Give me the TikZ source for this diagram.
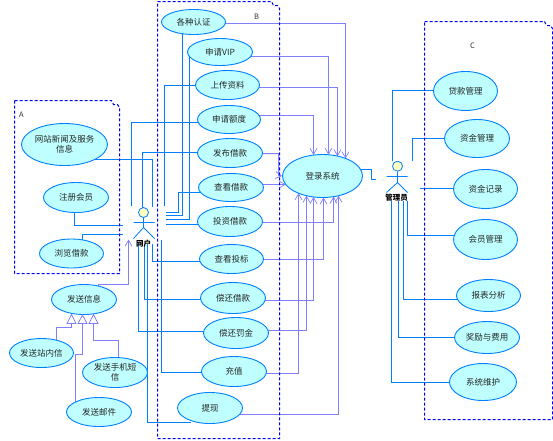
\documentclass[tikz,border=0pt]{standalone}
\usepackage{fontspec}
\setmainfont{Noto Sans CJK SC}
\usetikzlibrary{arrows.meta,shapes.geometric,backgrounds}
\definecolor{uline}{HTML}{0080FF}
\definecolor{ufill}{HTML}{BFFFFF}
\definecolor{upurple}{HTML}{8080FF}
\definecolor{upkg}{HTML}{0000F0}
\definecolor{uhead}{HTML}{FFFFC0}
\tikzset{
  usecase/.style={ellipse,draw=uline,fill=ufill,line width=0.9pt,inner sep=0pt,align=center,font=\fontsize{8.5}{10.5}\selectfont,text=black!85},
  assoc/.style={draw=uline,line width=1pt},
  dep/.style={draw=upurple,line width=1pt,-{Straight Barb[length=6pt,width=7pt,line width=0.7pt]}},
  gen/.style={draw=upurple,line width=1pt},
  gentip/.style={draw=upurple,fill=white,line width=0.8pt},
  pkg/.style={draw=upkg,line width=1pt,dash pattern=on 3pt off 2pt},
  pkglabel/.style={font=\fontsize{7.5}{9}\selectfont,text=black!80},
  actorlabel/.style={font=\fontsize{7.5}{9}\selectfont\bfseries,text=black},
  ahead/.style={circle,draw=uline,fill=uhead,line width=0.8pt,minimum size=10pt,inner sep=0pt},
}
\newcommand{\uc}[6]{\node[usecase,minimum width=#3pt,minimum height=#4pt] (#5) at (#1,#2) {#6};}
\newcommand{\pkgbox}[4]{% x1 y1 x2 y2
  \draw[pkg] (#1,#2) -- ({#3-8},#2) -- ({#3-6},{#2+4}) -- ({#3-2},{#2+4}) -- (#3,{#2+7}) -- (#3,#4) -- (#1,#4) -- cycle;}
\begin{document}
\begin{tikzpicture}[x=1pt,y=-1pt]
\useasboundingbox (-0.5,-0.5) rectangle (552.5,439.5);
% packages
\pkgbox{14}{100}{119}{273}
\pkgbox{157}{1}{279}{438}
\pkgbox{424}{21}{552}{419}
\node[pkglabel] (la) at (21,114) {A};
\node[pkglabel] (lb) at (256,16) {B};
\node[pkglabel] (lc) at (472,45) {C};
% use cases A
\uc{64}{144}{86}{42}{news}{网站新闻及服务\\信息}
\uc{75.5}{197}{65}{30}{reg}{注册会员}
\uc{71}{253}{64}{29}{browse}{浏览借款}
% send
\uc{83.5}{299}{65}{30}{send}{发送信息}
\uc{41}{352.5}{64}{29}{sinner}{发送站内信}
\uc{114.5}{372}{65}{30}{ssms}{发送手机短\\信}
\uc{98.5}{411.5}{65}{29}{smail}{发送邮件}
% use cases B
\uc{193}{21.5}{64}{25}{auth}{各种认证}
\uc{219.5}{51.5}{65}{27}{vip}{申请VIP}
\uc{227}{84.5}{64}{29}{upl}{上传资料}
\uc{228.5}{119}{63}{28}{quota}{申请额度}
\uc{229.5}{152.5}{65}{29}{pub}{发布借款}
\uc{230.5}{187}{65}{28}{view}{查看借款}
\uc{229.5}{221}{65}{30}{inv}{投资借款}
\uc{231}{258.5}{64}{29}{bid}{查看投标}
\uc{232.5}{297.5}{65}{31}{repay}{偿还借款}
\uc{235.5}{332.5}{65}{31}{fine}{偿还罚金}
\uc{233.5}{371}{65}{30}{charge}{充值}
\uc{209.5}{407.5}{65}{31}{wd}{提现}
\uc{322}{175.5}{80}{43}{login}{登录系统}
% use cases C
\uc{465}{90.5}{64}{39}{loan}{贷款管理}
\uc{476.5}{138}{65}{38}{fund}{资金管理}
\uc{485}{188.5}{64}{39}{frec}{资金记录}
\uc{485}{239}{64}{40}{memb}{会员管理}
\uc{488}{295}{64}{32}{rep}{报表分析}
\uc{486.5}{337}{65}{32}{rew}{奖励与费用}
\uc{482.5}{381.5}{67}{37}{sysm}{系统维护}
% actor: user
\node[ahead] (uh) at (143,212) {};
\coordinate (ub) at (143,227);
\coordinate (ula) at (133,222);
\coordinate (ura) at (154,222);
\coordinate (ull) at (133,238);
\coordinate (url) at (154,238);
\draw[assoc,line width=0.8pt] (uh.south) -- (ub) (ula) -- (ura) (ull) -- (ub) -- (url);
% actor: admin
\node[ahead] (ah) at (397,165.7) {};
\coordinate (ab) at (397,182);
\coordinate (ala) at (386,176);
\coordinate (ara) at (407,176);
\coordinate (all) at (386,192);
\coordinate (arl) at (407,192);
\draw[assoc,line width=0.8pt] (ah.south) -- (ab) (ala) -- (ara) (all) -- (ab) -- (arl);
% free ends
\foreach \n/\x/\y in {e1/152/206,e2/122/225,e3/122/234,e4/131/205,e5/142/207,e6/164/205,
  e7/165/212,e8/165/215,e9/165/219,e10/165/224,e11/152/243,e12/144/243,e13/138/243,e14/161/239,e15/147/243,
  e16/128/239,b7/178/212,sb/128/284,
  f1/392/160,f2/412/160,f3/419/188,f4/407/200,f5/403/200,f6/398/200,f7/391/200,
  m1/371/169,m2/371/179,m3/375/179,
  t1/345/157.9,t2/328/154.2,t3/337/155.7,t4/313/154.5,t5/278/175,t6/285.3/184,
  t7/333/196.2,t8/323/197,t9/313/196.5,t10/306/195.2,t11/298/192.7,t12/338/195.2,
  g1/71/323,g2/82/323,g3/93/323,g1b/71/327,g2b/82/354,g3b/93/340,
  a1/71/314,a2/82/314.5,a3/93/314}
  {\coordinate (\n) at (\x,\y);}
\begin{pgfonlayer}{background}
% associations
\draw[assoc] ([yshift=-15pt]news.center) -| (e1);
\draw[assoc] ([xshift=-1.5pt]reg.center) |- (e2);
\draw[assoc] ([xshift=11pt]browse.center) |- (e3);
\draw[assoc] ([xshift=-11pt]auth.center) |- (e8);
\draw[assoc] ([xshift=-30.5pt]vip.center) |- (e9);
\draw[assoc] ([yshift=-0.5pt]upl.center) -| (e6);
\draw[assoc] ([yshift=-3pt]quota.center) -| (e4);
\draw[assoc] ([yshift=0.5pt]pub.center) -| (e5);
\draw[assoc] ([yshift=-5pt]view.center) -| (b7) -- (e7);
\draw[assoc] ([yshift=-3pt]inv.center) -- (e10);
\draw[assoc] ([yshift=-2.5pt]bid.center) -| (e11);
\draw[assoc] ([yshift=-1.5pt]repay.center) -| (e12);
\draw[assoc] ([yshift=1.5pt]fine.center) -| (e13);
\draw[assoc] ([yshift=-1pt]charge.center) -| (e14);
\draw[assoc] ([xshift=-19.5pt,yshift=-14.5pt]wd.center) -| (e15);
\draw[assoc] ([yshift=0.5pt]loan.center) -| (f1);
\draw[assoc] (fund.center) -| (f2);
\draw[assoc] ([yshift=0.5pt]frec.center) -- (f3);
\draw[assoc] ([yshift=4pt]memb.center) -| (f4);
\draw[assoc] ([yshift=-4pt]rep.center) -| (f5);
\draw[assoc] (rew.center) -| (f6);
\draw[assoc] ([yshift=-0.5pt]sysm.center) -| (f7);
\draw[assoc] ([yshift=6.5pt]login.center) -- (m1) -- (m2) -- (m3);
% dependencies
\draw[dep] ([yshift=-1.5pt]auth.center) -| (t1);
\draw[dep] ([yshift=-4.5pt]vip.center) -| (t2);
\draw[dep] ([yshift=-2.5pt]upl.center) -| (t3);
\draw[dep] ([yshift=4pt]quota.center) -| (t4);
\draw[dep] ([yshift=-0.5pt]pub.center) -| (t5) -- (login.west);
\draw[dep] ([yshift=3pt]view.center) -- (t6);
\draw[dep] ([yshift=-1pt]inv.center) -| (t7);
\draw[dep] ([yshift=-0.5pt]bid.center) -| (t8);
\draw[dep] ([yshift=-2.5pt]repay.center) -| (t9);
\draw[dep] ([yshift=2.5pt]fine.center) -| (t10);
\draw[dep] ([yshift=-2pt]charge.center) -| (t11);
\draw[dep] ([yshift=-6.5pt]wd.center) -| (t12);
\draw[dep] ([xshift=14.5pt]send.center) |- (sb) -- (e16);
% generalisations
\draw[gen] ([xshift=15pt]sinner.center) |- (g1b) -- (g1);
\draw[gen] ([xshift=-23.5pt]smail.center) |- (g2b) -- (g2);
\draw[gen] ([xshift=3.5pt]ssms.center) |- (g3b) -- (g3);
\end{pgfonlayer}
\draw[gentip] (a1) -- ([xshift=-4.5pt]g1) -- ([xshift=4.5pt]g1) -- cycle;
\draw[gentip] (a2) -- ([xshift=-4.5pt]g2) -- ([xshift=4.5pt]g2) -- cycle;
\draw[gentip] (a3) -- ([xshift=-4.5pt]g3) -- ([xshift=4.5pt]g3) -- cycle;
\node[actorlabel] (ul) at (143,243.5) {网户};
\node[actorlabel] (al) at (396,197.5) {管理员};
\end{tikzpicture}
\end{document}
